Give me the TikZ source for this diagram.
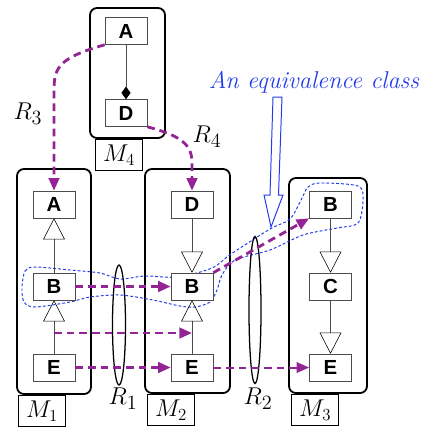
\documentclass[tikz,border=0pt]{standalone}
\usepackage{fontspec}
\newfontfamily\classfont{Liberation Sans}
\usetikzlibrary{positioning, shapes.geometric, arrows.meta, calc}
\definecolor{RelPurple}{RGB}{148,36,150}
\definecolor{ClassBlue}{RGB}{35,60,235}

\tikzset{
  cls/.style={draw=black!70, fill=white, minimum width=1.05cm, minimum height=0.675cm,
    inner sep=0pt, font=\classfont\bfseries\fontsize{14.5}{16}\selectfont},
  model/.style={draw, line width=1.3pt, rounded corners=5pt, inner sep=0pt},
  mlabel/.style={draw, line width=0.9pt, minimum width=1.175cm, minimum height=0.78cm,
    inner sep=0pt, anchor=north west, font=\fontsize{17.5}{20}\selectfont},
  inherit/.style={draw=black!70, -{Triangle[open, length=15pt, width=15.5pt, color=black]}},
  compose/.style={draw=black!70, -{Diamond[length=9pt, width=6.5pt, color=black]}},
  rel/.style={RelPurple, line width=2pt, dash pattern=on 5.5pt off 3.5pt,
    -{Triangle[length=9pt, width=7.5pt]}},
  corr/.style={draw, ellipse, line width=0.9pt, inner sep=0pt},
  rlabel/.style={font=\fontsize{19}{22}\selectfont},
  eqclass/.style={ClassBlue, line width=0.7pt, dash pattern=on 2pt off 1.5pt}
}

\begin{document}
\begin{tikzpicture}[x=0.025cm, y=-0.025cm]
    \useasboundingbox (0,0) rectangle (431,430);

    % Models
    \node[model, minimum width=1.875cm, minimum height=3.25cm] (m4) at (127.5,73) {};
    \node[model, minimum width=1.85cm, minimum height=5.625cm] (m1) at (54,281.5) {};
    \node[model, minimum width=2.125cm, minimum height=5.6cm] (m2) at (187.5,281) {};
    \node[model, minimum width=1.95cm, minimum height=5.375cm] (m3) at (328,285.5) {};

    \node[mlabel] (m4l) at ([xshift=0.15cm]m4.south west) {$M_4$};
    \node[mlabel] (m1l) at ([xshift=0.05cm]m1.south west) {$M_1$};
    \node[mlabel] (m2l) at ([xshift=0.075cm]m2.south west) {$M_2$};
    \node[mlabel] (m3l) at ([xshift=0.075cm]m3.south west) {$M_3$};

    % Equivalence class
    \draw[eqclass] plot[smooth cycle] coordinates {
      (22,288) (25,271) (35,267) (70,270) (100,273) (120,279) (145,276) (178,277)
      (212,268) (231,254) (270,229) (290,219) (302,198) (308,187) (320,183)
      (358,186) (363,200) (358,223) (337,228) (303,235) (270,250) (235,260)
      (222,275) (217,290) (210,302) (195,307) (180,306) (153,300) (120,295)
      (90,297) (70,302) (35,307) (24,302)};

    % Classes
    \node[cls] (a4) at (126,31) {A};
    \node[cls] (d4) at (126,113) {D};

    \node[cls] (a1) at (54,204.5) {A};
    \node[cls] (b1) at (54,286.5) {B};
    \node[cls] (e1) at (54,367.5) {E};

    \node[cls] (d2) at (192,204.5) {D};
    \node[cls] (b2) at (192,286.5) {B};
    \node[cls] (e2) at (192,367.5) {E};

    \node[cls] (b3) at (330.5,204.5) {B};
    \node[cls] (c3) at (330.5,286.5) {C};
    \node[cls] (e3) at (330.5,367.5) {E};

    % Inheritance and composition
    \draw[compose] (a4) -- (d4);
    \draw[inherit] (b1) -- (a1);
    \draw[inherit] (e1) -- (b1);
    \draw[inherit] (d2) -- (b2);
    \draw[inherit] (e2) -- (b2);
    \draw[inherit] (b3) -- (c3);
    \draw[inherit] (c3) -- (e3);

    % Correspondences
    \node[corr, minimum width=0.325cm, minimum height=3cm] (r1) at (119,325) {};
    \node[corr, minimum width=0.3cm, minimum height=3.675cm] (r2) at (255,310) {};
    \node[rlabel] (r1l) at (123,399) {$R_1$};
    \node[rlabel] (r2l) at (258,399) {$R_2$};
    \node[rlabel] (r3l) at (28,114) {$R_3$};
    \node[rlabel] (r4l) at (207,137) {$R_4$};

    \coordinate (mid1) at (54,333);
    \coordinate (mid2) at (192,333);

    \draw[rel] (a4.south west) .. controls (58,58) and (54,68) .. ($(a1.north)+(0,-100)$) -- (a1.north);
    \draw[rel] (d4.south east) .. controls (182,136) and (192,145) .. ($(d2.north)+(0,-28)$) -- (d2.north);
    \draw[rel] (b1) -- (b2);
    \draw[rel] (mid1) -- (mid2);
    \draw[rel] (e1) -- (e2);
    \draw[rel] (b2.north east) -- (b3.south west);
    \draw[rel, line width=1.4pt] (e2) -- (e3);

    % Label for the class
    \node[ClassBlue, font=\itshape\LARGE] (eqtext) at (314,82) {An equivalence class};
    \draw[ClassBlue, line width=0.7pt] (273,97) -- (282,97) -- (278.5,195) -- (283,195)
      -- (271,227) -- (264,195) -- (270,195) -- cycle;
\end{tikzpicture}
\end{document}
